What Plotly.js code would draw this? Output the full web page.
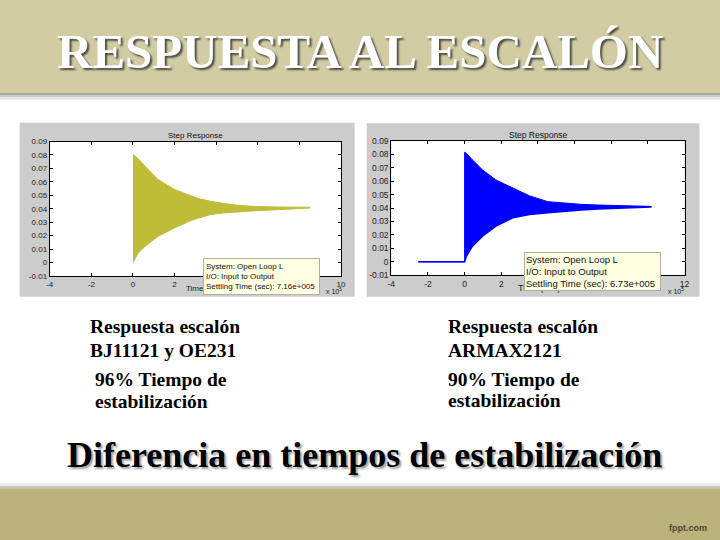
<!DOCTYPE html>
<html><head><meta charset="utf-8">
<script src="https://cdn.plot.ly/plotly-3.0.1.min.js"></script>
<style>html,body{margin:0;padding:0;background:#fff;} #chart{width:720px;height:540px;}</style>
</head><body><div id="chart"></div>
<script>
// ---------- data (time in units of 1e5 s) ----------
// Left plot: BJ11121 / OE231 step response envelope (upper / lower edge of the oscillation band)
const leftTime  = [0, 0.25, 0.57, 1.2, 2.0, 2.75, 3.13, 3.71, 4.35, 5.15, 5.95, 6.9, 8.5];
const leftUpper = [0.0805, 0.0772, 0.0718, 0.0618, 0.0543, 0.0497, 0.0476, 0.0456, 0.0439, 0.0424, 0.0416, 0.0413, 0.0411];
const leftLower = [0.0000, 0.0070, 0.0119, 0.0194, 0.0257, 0.0310, 0.0330, 0.0356, 0.0369, 0.0379, 0.0386, 0.0393, 0.0405];
// Right plot: ARMAX2121 step response envelope
const rightTime  = [-2.53, 0, 0, 0.1, 0.43, 0.98, 1.71, 2.63, 3.55, 4.54, 5.45, 6.37, 7.29, 8.93, 10.2];
const rightUpper = [0, 0, 0.0814, 0.0806, 0.0757, 0.0683, 0.0608, 0.0546, 0.0490, 0.0447, 0.0435, 0.0427, 0.0422, 0.0416, 0.0412];
const rightLower = [0, 0, 0, 0.0042, 0.0117, 0.0190, 0.0265, 0.0327, 0.0352, 0.0364, 0.0376, 0.0386, 0.0393, 0.0400, 0.0408];
// ticks
const yTickVals = [-0.01, 0, 0.01, 0.02, 0.03, 0.04, 0.05, 0.06, 0.07, 0.08, 0.09];
const yTickText = ['-0.01', '0', '0.01', '0.02', '0.03', '0.04', '0.05', '0.06', '0.07', '0.08', '0.09'];
const leftXTicks  = [-4, -2, 0, 2, 4, 6, 8, 10];
const rightXTicks = [-4, -2, 0, 2, 4, 6, 8, 10, 12];
const leftSettling  = '7.16e+005';
const rightSettling = '6.73e+005';
// texts
const slideTitle = 'RESPUESTA AL ESCALÓN';
const leftCaption  = ['Respuesta escalón', 'BJ11121 y OE231', '96% Tiempo de', 'estabilización'];
const rightCaption = ['Respuesta escalón', 'ARMAX2121', '90% Tiempo de', 'estabilización'];
const conclusion = 'Diferencia en tiempos de estabilización';

// ---------- layout helpers ----------
const W = 720, H = 540;
const px = v => v / W;
const py = v => 1 - v / H;
const YELLOW = '#bfbd38';
const BLUE = '#0000ff';

const axisCommon = {
  showgrid: false, zeroline: false, showline: true, linecolor: '#000', linewidth: 1,
  mirror: 'ticks', ticks: 'inside', ticklen: 3, tickcolor: '#000', tickwidth: 1,
  tickfont: {family: 'Liberation Sans, Arial, sans-serif', size: 8, color: '#222'},
  fixedrange: true
};

const traces = [
  {x: leftTime, y: leftLower, xaxis: 'x', yaxis: 'y', mode: 'lines',
   line: {color: YELLOW, width: 1}, hoverinfo: 'skip', showlegend: false},
  {x: leftTime, y: leftUpper, xaxis: 'x', yaxis: 'y', mode: 'lines', fill: 'tonexty',
   fillcolor: YELLOW, line: {color: YELLOW, width: 1}, hoverinfo: 'skip', showlegend: false},
  {x: rightTime, y: rightLower, xaxis: 'x2', yaxis: 'y2', mode: 'lines',
   line: {color: BLUE, width: 1.5}, hoverinfo: 'skip', showlegend: false},
  {x: rightTime, y: rightUpper, xaxis: 'x2', yaxis: 'y2', mode: 'lines', fill: 'tonexty',
   fillcolor: BLUE, line: {color: BLUE, width: 1}, hoverinfo: 'skip', showlegend: false}
];

function rectP(x0, y0, x1, y1, color, extra) {
  return Object.assign({type: 'rect', xref: 'paper', yref: 'paper', layer: 'below',
    x0: px(x0), x1: px(x1), y0: py(y1), y1: py(y0), fillcolor: color, line: {width: 0}}, extra || {});
}

const shapes = [
  rectP(0, 0, 720, 93, '#d2cca3'),
  rectP(0, 93, 720, 95, '#a9a9a2'),
  rectP(0, 95, 720, 97, '#c9c9c6'),
  rectP(0, 97, 720, 100, '#e8e8e6'),
  rectP(0, 483, 720, 486, '#eeeeec'),
  rectP(0, 486, 720, 489, '#c9c7bb'),
  rectP(0, 489, 720, 540, '#bbb27c'),
  rectP(19.7, 122.7, 354.7, 296.7, '#cccccc'),
  rectP(366.7, 123.3, 699.5, 296.7, '#cccccc'),
  {type: 'rect', xref: 'x domain', yref: 'y domain', x0: 0, x1: 1, y0: 0, y1: 1,
   fillcolor: '#ffffff', line: {width: 0}, layer: 'below'},
  {type: 'rect', xref: 'x2 domain', yref: 'y2 domain', x0: 0, x1: 1, y0: 0, y1: 1,
   fillcolor: '#ffffff', line: {width: 0}, layer: 'below'}
];

function ann(text, x, y, font, extra) {
  return Object.assign({text: text, x: px(x), y: py(y), xref: 'paper', yref: 'paper',
    showarrow: false, xanchor: 'left', yanchor: 'middle', font: font}, extra || {});
}
const sans = 'Liberation Sans, Arial, sans-serif';
const serif = 'Liberation Serif, Times New Roman, serif';
const capFont = {family: serif, size: 19.5, color: '#000', weight: 'bold'};

const annotations = [
  ann(slideTitle, 360, 51, {family: serif, size: 49, color: '#ffffff', weight: 'bold',
      shadow: '2px 2px 2px rgba(60,60,60,0.9)'}, {xanchor: 'center'}),
  ann('Step Response', 195, 135.5, {family: sans, size: 8, color: '#111'}, {xanchor: 'center'}),
  ann('Step Response', 538, 135, {family: sans, size: 8.5, color: '#111'}, {xanchor: 'center'}),
  ann('Time (sec)', 184, 288, {family: sans, size: 8, color: '#222'}),
  ann('Time (sec)', 516, 288, {family: sans, size: 9, color: '#222'}),
  ann('x 10<sup>5</sup>', 344, 291, {family: sans, size: 7, color: '#222'}, {xanchor: 'right'}),
  ann('x 10<sup>5</sup>', 686, 291, {family: sans, size: 7, color: '#222'}, {xanchor: 'right'}),
  ann('System: Open Loop L<br>I/O: Input to Output<br>Settling Time (sec): ' + leftSettling,
      202.7, 258.3, {family: sans, size: 8, color: '#111'},
      {yanchor: 'top', align: 'left', bgcolor: '#ffffe1', bordercolor: '#b0b0a0',
       borderwidth: 1, borderpad: 2, width: 111, height: 31}),
  ann('System: Open Loop L<br>I/O: Input to Output<br>Settling Time (sec): ' + rightSettling,
      523.7, 251.7, {family: sans, size: 9.5, color: '#111'},
      {yanchor: 'top', align: 'left', bgcolor: '#ffffe1', bordercolor: '#b0b0a0',
       borderwidth: 1, borderpad: 1, width: 133, height: 35}),
  ann(leftCaption[0], 88, 326, capFont),
  ann(leftCaption[1], 88, 350.4, capFont),
  ann(leftCaption[2], 92.5, 379.5, capFont),
  ann(leftCaption[3], 92.5, 401, capFont),
  ann(rightCaption[0], 446, 326, capFont),
  ann(rightCaption[1], 446, 350.4, capFont),
  ann(rightCaption[2], 446, 379.5, capFont),
  ann(rightCaption[3], 446, 400, capFont),
  ann(conclusion, 364, 455, {family: serif, size: 36, color: '#000', weight: 'bold',
      shadow: '2px 2px 2px rgba(150,150,150,0.9)'}, {xanchor: 'center'}),
  ann('fppt.com', 709, 528, {family: sans, size: 9, color: '#4a4a3a', weight: 'bold'}, {xanchor: 'right'})
];

const layout = {
  width: W, height: H,
  margin: {l: 0, r: 0, t: 0, b: 0, pad: 0},
  paper_bgcolor: '#ffffff', plot_bgcolor: 'rgba(0,0,0,0)',
  showlegend: false,
  xaxis: Object.assign({}, axisCommon, {domain: [px(49.7), px(341)], range: [-4, 10],
    tickvals: leftXTicks, ticktext: leftXTicks.map(String), anchor: 'y'}),
  yaxis: Object.assign({}, axisCommon, {domain: [py(276), py(141.5)], range: [-0.01, 0.09],
    tickvals: yTickVals, ticktext: yTickText, anchor: 'x'}),
  xaxis2: Object.assign({}, axisCommon, {domain: [px(391.3), px(684.5)], range: [-4, 12],
    tickvals: rightXTicks, ticktext: rightXTicks.map(String), anchor: 'y2',
    tickfont: {family: sans, size: 8.5, color: '#222'}}),
  yaxis2: Object.assign({}, axisCommon, {domain: [py(275.3), py(140.7)], range: [-0.01, 0.09],
    tickvals: yTickVals, ticktext: yTickText, anchor: 'x2',
    tickfont: {family: sans, size: 8.5, color: '#222'}}),
  shapes: shapes,
  annotations: annotations
};

Plotly.newPlot('chart', traces, layout, {staticPlot: true, displayModeBar: false});
</script>
</body></html>
